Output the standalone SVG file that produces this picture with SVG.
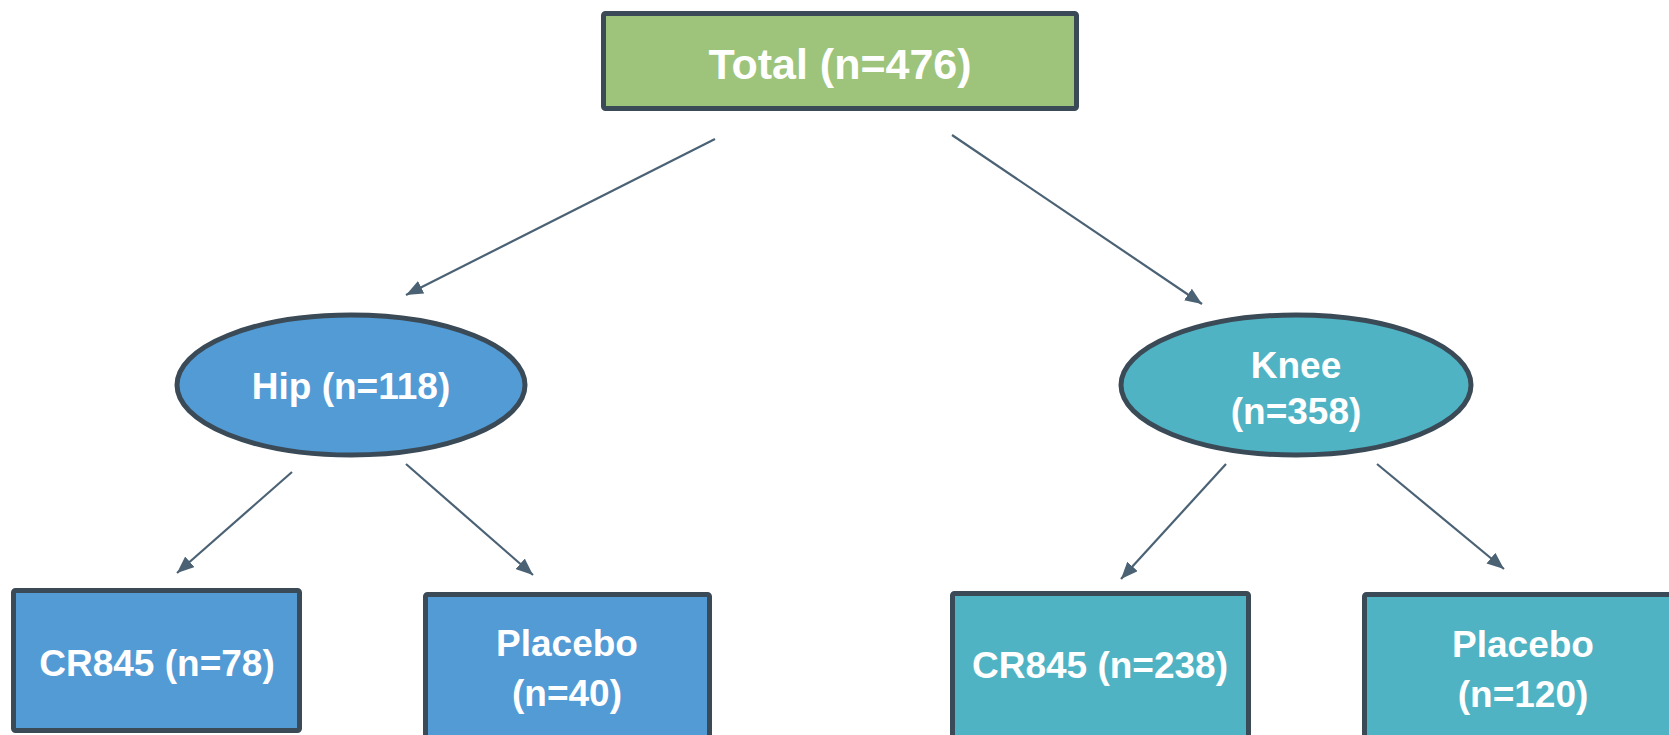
<svg xmlns="http://www.w3.org/2000/svg" width="1669" height="735" viewBox="0 0 1669 735">
<style>
.node{stroke:#3b4a57;stroke-width:5}
.green{fill:#9dc47a}
.blue{fill:#529bd5}
.teal{fill:#4fb3c4}
.lbl{font-family:"Liberation Sans",Arial,sans-serif;font-weight:bold;fill:#ffffff;text-anchor:middle}
.big{font-size:43px}
.med{font-size:37px}
.conn{stroke:#4b6275;stroke-width:2.2;fill:none;marker-end:url(#arr)}
</style>
<defs>
<marker id="arr" markerUnits="userSpaceOnUse" markerWidth="18" markerHeight="14" refX="17" refY="7" orient="auto">
<path d="M0,0 L17,7 L0,14 z" fill="#4b6275"/>
</marker>
</defs>
<rect width="1669" height="735" fill="#ffffff"/>
<g id="connectors">
<line class="conn" x1="715" y1="139" x2="406" y2="295"/>
<line class="conn" x1="952" y1="135" x2="1202" y2="304"/>
<line class="conn" x1="292" y1="472" x2="177" y2="573"/>
<line class="conn" x1="406" y1="464" x2="533" y2="575"/>
<line class="conn" x1="1226" y1="464" x2="1121" y2="579"/>
<line class="conn" x1="1377" y1="464" x2="1504" y2="569"/>
</g>
<g id="total">
<rect class="node green" x="603.5" y="13.5" width="473" height="95" rx="2"/>
<text class="lbl big" x="840" y="79">Total (n=476)</text>
</g>
<g id="hip">
<ellipse class="node blue" cx="351" cy="385" rx="174" ry="70"/>
<text class="lbl med" x="351" y="399">Hip (n=118)</text>
</g>
<g id="knee">
<ellipse class="node teal" cx="1296" cy="385" rx="175" ry="70"/>
<text class="lbl med" x="1296" y="378">Knee</text>
<text class="lbl med" x="1296" y="424">(n=358)</text>
</g>
<g id="hip-cr845">
<rect class="node blue" x="13.5" y="590.5" width="286" height="140" rx="2"/>
<text class="lbl med" x="157" y="676">CR845 (n=78)</text>
</g>
<g id="hip-placebo">
<rect class="node blue" x="425.5" y="594.5" width="284" height="160" rx="2"/>
<text class="lbl med" x="567" y="656">Placebo</text>
<text class="lbl med" x="567" y="706">(n=40)</text>
</g>
<g id="knee-cr845">
<rect class="node teal" x="952.5" y="593.5" width="296" height="160" rx="2"/>
<text class="lbl med" x="1100" y="678">CR845 (n=238)</text>
</g>
<g id="knee-placebo">
<rect class="node teal" x="1364.5" y="594.5" width="320" height="160" rx="2"/>
<text class="lbl med" x="1523" y="657">Placebo</text>
<text class="lbl med" x="1523" y="707">(n=120)</text>
</g>
</svg>
